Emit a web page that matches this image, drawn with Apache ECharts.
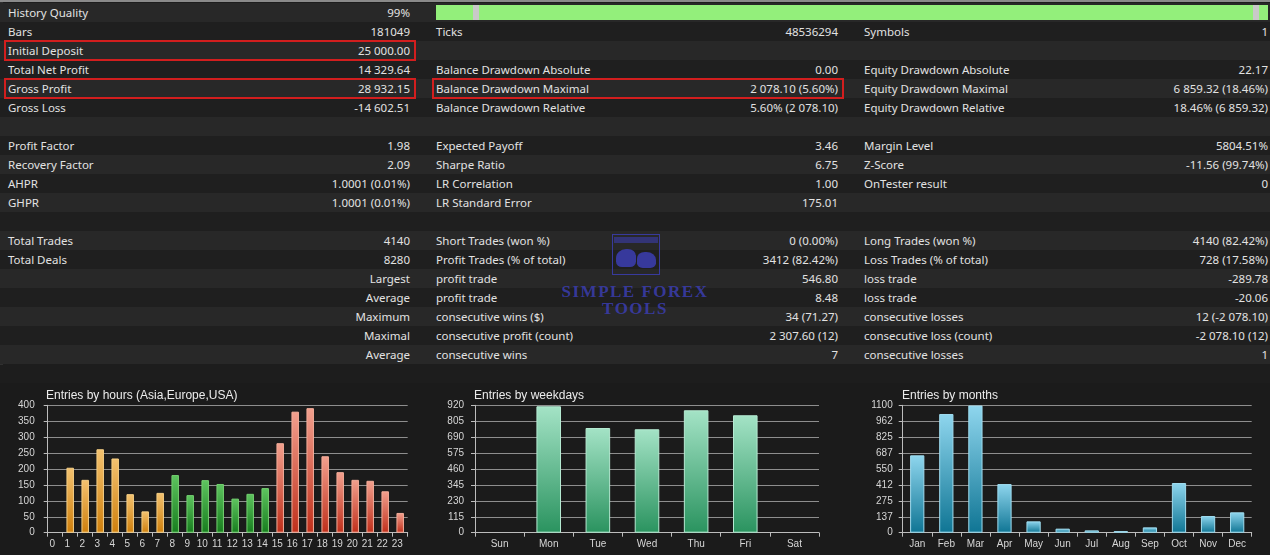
<!DOCTYPE html>
<html>
<head>
<meta charset="utf-8">
<script src="https://cdn.jsdelivr.net/npm/echarts@6/dist/echarts.min.js"></script>
<style>
  html, body { margin: 0; padding: 0; background: #1d1d1d; }
  #page { position: relative; width: 1270px; height: 555px; overflow: hidden; background: #1d1d1d;
          font-family: "Noto Sans", "Open Sans", sans-serif; font-size: 11.5px; color: #e2e2e2; }
  .row { position: absolute; left: 0; width: 1270px; height: 19px; }
  .cell { position: absolute; top: 0; line-height: 19px; white-space: nowrap; }
  .r { text-align: right; }
  .box { position: absolute; border: 2px solid #d21e1e; box-sizing: border-box; }
  #charts { position: absolute; left: 0; top: 383px; width: 1270px; height: 172px; }
</style>
</head>
<body>
<div id="page">
  <div id="table"></div>
  <div id="charts"></div>
</div>
<script>
// report table
const col1Labels = ['History Quality', 'Bars', 'Initial Deposit', 'Total Net Profit', 'Gross Profit', 'Gross Loss', '',
  'Profit Factor', 'Recovery Factor', 'AHPR', 'GHPR', '', 'Total Trades', 'Total Deals', '', '', '', '', ''];
const col1Values = ['99%', '181049', '25 000.00', '14 329.64', '28 932.15', '-14 602.51', '',
  '1.98', '2.09', '1.0001 (0.01%)', '1.0001 (0.01%)', '', '4140', '8280', 'Largest', 'Average', 'Maximum', 'Maximal', 'Average'];
const col2Labels = ['', 'Ticks', '', 'Balance Drawdown Absolute', 'Balance Drawdown Maximal', 'Balance Drawdown Relative', '',
  'Expected Payoff', 'Sharpe Ratio', 'LR Correlation', 'LR Standard Error', '', 'Short Trades (won %)', 'Profit Trades (% of total)',
  'profit trade', 'profit trade', 'consecutive wins ($)', 'consecutive profit (count)', 'consecutive wins'];
const col2Values = ['', '48536294', '', '0.00', '2 078.10 (5.60%)', '5.60% (2 078.10)', '',
  '3.46', '6.75', '1.00', '175.01', '', '0 (0.00%)', '3412 (82.42%)', '546.80', '8.48', '34 (71.27)', '2 307.60 (12)', '7'];
const col3Labels = ['', 'Symbols', '', 'Equity Drawdown Absolute', 'Equity Drawdown Maximal', 'Equity Drawdown Relative', '',
  'Margin Level', 'Z-Score', 'OnTester result', '', '', 'Long Trades (won %)', 'Loss Trades (% of total)',
  'loss trade', 'loss trade', 'consecutive losses', 'consecutive loss (count)', 'consecutive losses'];
const col3Values = ['', '1', '', '22.17', '6 859.32 (18.46%)', '18.46% (6 859.32)', '',
  '5804.51%', '-11.56 (99.74%)', '0', '', '', '4140 (82.42%)', '728 (17.58%)',
  '-289.78', '-20.06', '12 (-2 078.10)', '-2 078.10 (12)', '1'];

// charts
const hourLabels = ['0','1','2','3','4','5','6','7','8','9','10','11','12','13','14','15','16','17','18','19','20','21','22','23'];
const hourEntries = [0, 204, 166, 262, 233, 121, 67, 125, 181, 118, 165, 153, 107, 122, 140, 281, 380, 391, 240, 190, 166, 163, 130, 62];
const hourSession = ['asia','asia','asia','asia','asia','asia','asia','asia',
  'europe','europe','europe','europe','europe','europe','europe',
  'usa','usa','usa','usa','usa','usa','usa','usa','usa'];
const weekdayLabels = ['Sun', 'Mon', 'Tue', 'Wed', 'Thu', 'Fri', 'Sat'];
const weekdayEntries = [0, 913, 756, 747, 884, 848, 0];
const monthLabels = ['Jan','Feb','Mar','Apr','May','Jun','Jul','Aug','Sep','Oct','Nov','Dec'];
const monthEntries = [668, 1025, 1098, 420, 98, 35, 20, 14, 46, 429, 144, 176];

// build the table
const table = document.getElementById('table');
let html = '<div style="position:absolute;left:0;top:0;width:1270px;height:2px;background:#8a8a8a"></div>';
html += '<div style="position:absolute;left:0;top:2px;width:3px;height:363px;background:#303030"></div>';
for (let i = 0; i < col1Labels.length; i++) {
  const top = 3 + 19 * i;
  const bg = i % 2 === 0 ? '#282828' : '#1f1f1f';
  html += '<div class="row" style="top:' + top + 'px;background:' + bg + '">' +
    '<div class="cell" style="left:8px">' + col1Labels[i] + '</div>' +
    '<div class="cell r" style="right:' + (1270 - 410) + 'px">' + col1Values[i] + '</div>' +
    '<div class="cell" style="left:436px">' + col2Labels[i] + '</div>' +
    '<div class="cell r" style="right:' + (1270 - 838) + 'px">' + col2Values[i] + '</div>' +
    '<div class="cell" style="left:864px">' + col3Labels[i] + '</div>' +
    '<div class="cell r" style="right:2px">' + col3Values[i] + '</div>' +
    '</div>';
}
// history quality bar
html += '<div style="position:absolute;left:436px;top:5px;width:832px;height:15px;background:#93ef7b"></div>';
html += '<div style="position:absolute;left:473px;top:5px;width:6px;height:15px;background:#c9c9c9"></div>';
html += '<div style="position:absolute;left:1253px;top:5px;width:6px;height:15px;background:#c9c9c9"></div>';
// highlight boxes
html += '<div class="box" style="left:4px;top:40px;width:412px;height:21px"></div>';
html += '<div class="box" style="left:4px;top:78px;width:412px;height:21px"></div>';
html += '<div class="box" style="left:432px;top:78px;width:412px;height:21px"></div>';
// watermark
const wm = 'rgba(58,60,170,0.9)';
html += '<div style="position:absolute;left:612px;top:234px;width:48px;height:41px;border:1.5px solid ' + wm + ';box-sizing:border-box"></div>';
html += '<div style="position:absolute;left:614px;top:237px;width:44px;height:6px;background:rgba(58,60,170,0.6)"></div>';
html += '<div style="position:absolute;left:616px;top:249px;width:20px;height:18px;border-radius:50% 40% 30% 30%;background:' + wm + '"></div>';
html += '<div style="position:absolute;left:637px;top:252px;width:19px;height:16px;border-radius:40% 50% 30% 30%;background:' + wm + '"></div>';
html += '<div style="position:absolute;left:540px;top:283px;width:190px;text-align:center;font-family:\'Liberation Serif\',serif;font-weight:bold;font-size:17px;line-height:17px;letter-spacing:1.5px;color:' + wm + '">SIMPLE FOREX<br>TOOLS</div>';
table.innerHTML = html;

function grad(top, bottom) {
  return new echarts.graphic.LinearGradient(0, 0, 0, 1, [
    { offset: 0, color: top }, { offset: 1, color: bottom }
  ]);
}
const sessionStyle = {
  asia: { color: grad('#f3c270', '#cf7f0c'), borderColor: '#f6cf85' },
  europe: { color: grad('#5ec45f', '#177d1e'), borderColor: '#74d070' },
  usa: { color: grad('#f2a08e', '#bf2f1b'), borderColor: '#f4ad9a' }
};

const chart = echarts.init(document.getElementById('charts'), null, { renderer: 'canvas' });

const gridTop = 22.3, gridHeight = 127.4;
const axisColor = '#bdbdbd';
const labelStyle = { color: '#d6d6d6', fontSize: 10, fontFamily: 'Liberation Sans, Arial, sans-serif' };

function xAxis(idx, data, extra) {
  return {
    type: 'category', gridIndex: idx, data: data,
    axisLine: { lineStyle: { color: axisColor } },
    axisTick: { show: true, length: 4, lineStyle: { color: axisColor } },
    axisLabel: Object.assign({ margin: 7 }, labelStyle, extra || {})
  };
}
function yAxis(idx, max, interval, margin) {
  return {
    type: 'value', gridIndex: idx, min: 0, max: max, interval: interval,
    axisLine: { show: true, lineStyle: { color: axisColor } },
    axisTick: { show: true, length: 4, lineStyle: { color: axisColor } },
    axisLabel: Object.assign({ margin: margin, formatter: v => String(Math.floor(v)) }, labelStyle),
    splitLine: { lineStyle: { color: '#8e8e8e', width: 1 } }
  };
}
// empty bars draw nothing, not even an outline
function bar(v, style) {
  return { value: v, itemStyle: Object.assign({}, style, { borderWidth: v > 0 ? 1 : 0 }) };
}

chart.setOption({
  backgroundColor: '#1b1b1b',
  animation: false,
  title: [
    { text: 'Entries by hours (Asia,Europe,USA)', left: 46, top: 7 },
    { text: 'Entries by weekdays', left: 474, top: 7 },
    { text: 'Entries by months', left: 902, top: 7 }
  ].map(t => Object.assign(t, {
    padding: 0,
    textStyle: { color: '#ececec', fontSize: 12, fontWeight: 'normal', fontFamily: 'Liberation Sans, Arial, sans-serif' }
  })),
  grid: [
    { left: 47.7, width: 360, top: gridTop, height: gridHeight },
    { left: 475, width: 344, top: gridTop, height: gridHeight },
    { left: 902.7, width: 349, top: gridTop, height: gridHeight }
  ],
  xAxis: [xAxis(0, hourLabels, { padding: [0, 6, 0, 0] }), xAxis(1, weekdayLabels), xAxis(2, monthLabels)],
  yAxis: [yAxis(0, 400, 50, 13), yAxis(1, 920, 115, 11), yAxis(2, 1100, 137.5, 10)],
  series: [
    {
      type: 'bar', xAxisIndex: 0, yAxisIndex: 0, barWidth: '50%',
      data: hourEntries.map((v, i) => bar(v, sessionStyle[hourSession[i]]))
    },
    {
      type: 'bar', xAxisIndex: 1, yAxisIndex: 1, barWidth: '50%',
      data: weekdayEntries.map(v => bar(v, { color: grad('#a4e3c6', '#2a935f'), borderColor: '#b5ead2' }))
    },
    {
      type: 'bar', xAxisIndex: 2, yAxisIndex: 2, barWidth: '49%',
      data: monthEntries.map(v => bar(v, { color: grad('#8fd6ee', '#0f7594'), borderColor: '#9fdcef' }))
    }
  ]
});
</script>
</body>
</html>
